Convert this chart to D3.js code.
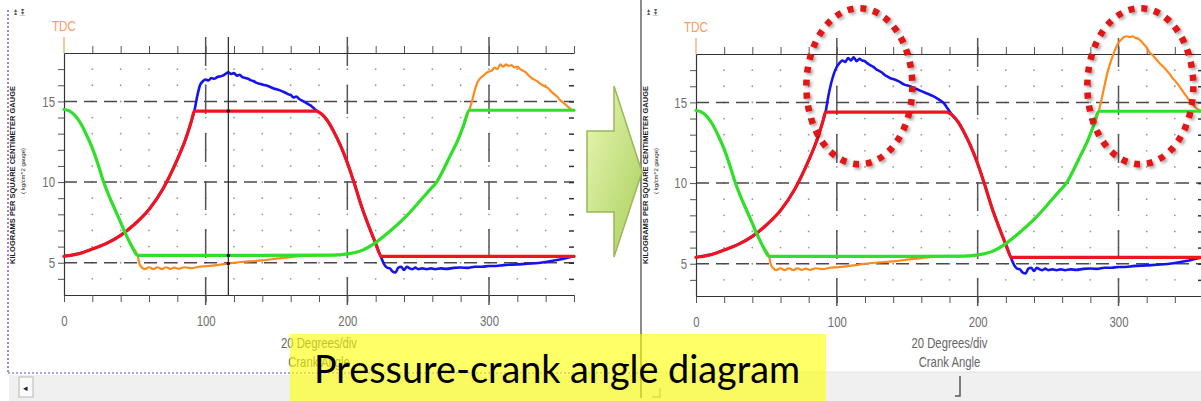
<!DOCTYPE html>
<html>
<head>
<meta charset="utf-8">
<script src="https://cdn.jsdelivr.net/npm/d3@7"></script>
<style>
  html, body { margin: 0; padding: 0; background: #fff; }
  svg { display: block; }
</style>
</head>
<body>
<script>
// ---------------- DATA ----------------
const angleTickLabels = [0, 100, 200, 300];
const pressureTickLabels = [5, 10, 15];
const angleMinorTicks = d3.range(0, 361, 20);
const pressureMinorTicks = d3.range(4, 18, 1);

// ideal (red) curve: [crank angle deg, pressure kg/cm2]
const redCurve = [[0,5.4],[10,5.55],[20,5.85],[30,6.2],[40,6.7],[50,7.4],[60,8.3],[70,9.6],[80,11.4],[86,12.7],[90,13.8],[92,14.4],
  [178,14.4],[182,14.2],[186,13.8],[190,13.2],[195,12.3],[200,11.2],[205,9.9],[210,8.5],[215,7.3],[220,6.2],[224,5.4],[360,5.4]];

// ideal (green) curve
const greenCurve = [[0,14.5],[4,14.4],[8,14.1],[12,13.6],[16,12.9],[20,12.1],[24,11.1],[28,10.0],[32,9.1],[36,8.3],[40,7.5],[44,6.7],[48,6.0],[52,5.45],
  [190,5.47],[200,5.55],[210,5.75],[220,6.25],[230,6.95],[240,7.75],[246,8.3],[252,8.9],[258,9.5],[263,10.0],[268,10.8],[273,11.7],[278,12.6],[282,13.5],[286,14.45],[360,14.45]];

// measured (blue) peak, before / after
const bluePeakBefore = [[94,15.3],[96,16.0],[98,16.25],[100,16.35],[102,16.3],[104,16.45],[106,16.4],[108,16.5],[110,16.55],[112,16.6],[114,16.7],[116,16.8],
  [118,16.7],[120,16.75],[122,16.6],[124,16.65],[126,16.5],[128,16.45],[130,16.4],[132,16.3],[134,16.25],[136,16.15],[138,16.1],[140,16.05],[144,15.95],
  [148,15.8],[152,15.7],[156,15.55],[158,15.45],[160,15.4],[162,15.25],[164,15.3],[166,15.15],[168,15.05],[170,14.95],[172,14.85],[174,14.75],[176,14.6],[178,14.45]];
const bluePeakAfter = [[94,15.4],[96,16.2],[98,16.8],[100,17.2],[102,17.45],[104,17.6],[106,17.5],[108,17.75],[110,17.6],[112,17.8],[114,17.55],[116,17.7],
  [118,17.6],[120,17.55],[122,17.4],[124,17.3],[126,17.2],[128,17.05],[130,16.95],[132,16.85],[134,16.7],[136,16.6],[138,16.5],[140,16.45],[144,16.3],
  [148,16.1],[152,16.0],[156,15.85],[160,15.7],[164,15.55],[168,15.4],[172,15.2],[176,14.95],[178,14.7],[180,14.45]];
// measured (blue) low part
const blueLow = [[224,5.3],[226,4.9],[228,4.7],[230,4.65],[232,4.45],[234,4.4],[236,4.7],[238,4.75],[240,4.55],[242,4.75],[244,4.65],[246,4.6],[248,4.7],
  [250,4.6],[253,4.65],[256,4.6],[259,4.65],[262,4.6],[266,4.65],[270,4.62],[275,4.68],[280,4.7],[285,4.68],[290,4.75],[295,4.75],[300,4.8],[305,4.8],
  [310,4.85],[320,4.9],[330,4.95],[340,5.05],[350,5.2],[360,5.4]];

// measured (orange) low part and peaks, before / after
const orangeLow = [[53,5.0],[55,4.7],[57,4.6],[60,4.72],[63,4.6],[66,4.72],[69,4.6],[72,4.72],[75,4.62],[78,4.7],[81,4.62],[85,4.72],[90,4.66],[95,4.75],
  [100,4.78],[105,4.82],[110,4.88],[116,4.95],[120,5.0],[130,5.08],[140,5.15],[150,5.25],[160,5.35],[170,5.43]];
const orangePeakBefore = [[288,15.0],[290,15.7],[292,16.2],[294,16.45],[296,16.6],[298,16.75],[300,16.85],[302,16.9],[304,17.1],[306,17.0],[308,17.3],
  [310,17.15],[312,17.3],[314,17.2],[316,17.25],[318,17.1],[320,17.15],[322,17.0],[324,16.9],[326,16.8],[328,16.6],[330,16.45],[332,16.35],[334,16.25],
  [336,16.1],[338,16.0],[340,15.9],[342,15.8],[344,15.6],[346,15.45],[348,15.3],[350,15.1],[352,14.95],[354,14.8],[356,14.65],[358,14.5],[360,14.45]];
const orangePeakAfter = [[288,15.2],[290,16.0],[292,16.8],[294,17.4],[296,17.9],[298,18.35],[300,18.7],[302,18.9],[304,19.05],[306,19.1],[308,19.05],
  [310,19.1],[312,19.0],[314,18.95],[316,18.8],[318,18.6],[320,18.4],[322,18.1],[324,17.95],[326,17.75],[328,17.55],[330,17.35],[332,17.2],[334,17.0],
  [336,16.8],[338,16.55],[340,16.35],[342,16.15],[344,15.9],[346,15.65],[348,15.4],[350,15.15],[352,14.95],[354,14.75],[356,14.6],[358,14.5],[360,14.45]];

const cursorAngle = 116;

// ---------------- DRAW ----------------
const W = 1201, H = 401;
const svg = d3.select("body").append("svg").attr("width", W).attr("height", H);
const defs = svg.append("defs");
const grad = defs.append("linearGradient").attr("id", "arrowGrad").attr("x1", "0").attr("y1", "0").attr("x2", "1").attr("y2", "1");
grad.append("stop").attr("offset", "0").attr("stop-color", "#eaf7b6");
grad.append("stop").attr("offset", "1").attr("stop-color", "#a9cf5c");
const sh = defs.append("filter").attr("id", "shadow").attr("x", "-20%").attr("y", "-20%").attr("width", "140%").attr("height", "140%");
sh.append("feDropShadow").attr("dx", 2).attr("dy", 2).attr("stdDeviation", 1.5).attr("flood-color", "#000").attr("flood-opacity", 0.35);

const FONT = '"Liberation Sans Narrow", "Arial Narrow", "Liberation Sans", Arial, sans-serif';

// narrow the text (the original uses a condensed face)
function condense(sel, f) {
  sel.each(function () {
    const l = this.getComputedTextLength();
    if (l > 0) d3.select(this).attr("textLength", l * f).attr("lengthAdjust", "spacingAndGlyphs");
  });
}

function buildBlue(peak) {
  return redCurve.filter(d => d[0] <= 92).concat(peak, redCurve.filter(d => d[0] >= 182 && d[0] <= 220), blueLow);
}
function buildOrange(peak) {
  return greenCurve.filter(d => d[0] <= 52).concat(orangeLow, greenCurve.filter(d => d[0] >= 190 && d[0] <= 286), peak);
}

function panel(cfg) {
  const x = d3.scaleLinear().domain([0, 360]).range(cfg.xr);
  const y = d3.scaleLinear().domain([3, 18]).range(cfg.yr);
  const g = svg.append("g");
  const [x0, x1] = cfg.xr, [yb, yt] = cfg.yr;

  // y-axis titles
  g.append("text").attr("transform", `translate(${cfg.titleX},175) rotate(-90)`).attr("text-anchor", "middle")
    .attr("font-family", "Liberation Sans, Arial, sans-serif").attr("font-size", 7.5).attr("font-weight", "bold").attr("fill", "#222")
    .attr("textLength", 178).attr("lengthAdjust", "spacingAndGlyphs").text("KILOGRAMS PER SQUARE CENTIMETER GAUGE");
  g.append("text").attr("transform", `translate(${cfg.titleX + 10},171) rotate(-90)`).attr("text-anchor", "middle")
    .attr("font-family", "Liberation Sans, Arial, sans-serif").attr("font-size", 6).attr("fill", "#222")
    .attr("textLength", 46).attr("lengthAdjust", "spacingAndGlyphs").text("( kg/cm^2 gauge)");
  // tiny nav icons
  g.append("text").attr("transform", `translate(${cfg.titleX - 1},9) rotate(90)`).attr("font-size", 6).attr("fill", "#555").text("◂◂");
  g.append("text").attr("transform", `translate(${cfg.titleX + 6},9) rotate(90)`).attr("font-size", 6).attr("fill", "#555").text("▸▸|");

  // grid dots
  const dots = [];
  angleMinorTicks.forEach(a => { if (a > 0 && a < 360) pressureMinorTicks.forEach(p => dots.push([a, p])); });
  g.append("g").selectAll("circle").data(dots).join("circle")
    .attr("cx", d => x(d[0])).attr("cy", d => y(d[1])).attr("r", 0.9).attr("fill", "#999");

  // horizontal dashed major lines
  g.append("g").selectAll("line").data(pressureTickLabels).join("line")
    .attr("x1", x0).attr("x2", x1).attr("y1", d => y(d)).attr("y2", d => y(d))
    .attr("stroke", "#4a4a4a").attr("stroke-width", 1.5).attr("stroke-dasharray", "13,7");
  // vertical dashed major lines
  g.append("g").selectAll("line").data(angleTickLabels.filter(d => d > 0)).join("line")
    .attr("x1", d => x(d)).attr("x2", d => x(d)).attr("y1", yt - 16).attr("y2", yb + 10)
    .attr("stroke", "#555").attr("stroke-width", 1.5).attr("stroke-dasharray", "29,19");

  // axes
  const bottom = g.append("g").attr("transform", `translate(0,${yb})`)
    .call(d3.axisBottom(x).tickValues(angleMinorTicks).tickSize(7).tickSizeOuter(0).tickPadding(13)
      .tickFormat(d => angleTickLabels.includes(d) ? d : ""));
  const top = g.append("g").attr("transform", `translate(0,${yt})`)
    .call(d3.axisTop(x).tickValues(angleMinorTicks.filter(d => d > 0)).tickSize(7).tickSizeOuter(0).tickFormat(""));
  const left = g.append("g").attr("transform", `translate(${x0},0)`)
    .call(d3.axisLeft(y).tickValues(pressureMinorTicks).tickSize(6).tickSizeOuter(0).tickPadding(3)
      .tickFormat(d => pressureTickLabels.includes(d) ? d : ""));
  const right = g.append("g").attr("transform", `translate(${x(360)},0)`)
    .call(d3.axisLeft(y).tickValues(pressureMinorTicks).tickSize(5).tickSizeOuter(0).tickFormat(""));
  right.select(".domain").remove();
  right.selectAll("line").attr("stroke", "#333").attr("stroke-width", 1.5);
  [bottom, top, left].forEach(a => {
    a.select(".domain").attr("stroke", "#333").attr("stroke-width", 1.2);
    a.selectAll(".tick line").attr("stroke", "#555");
    a.selectAll("text").attr("fill", "#6e6e6e").attr("font-size", 15).attr("font-family", FONT);
    condense(a.selectAll("text"), 0.76);
  });

  // TDC marker
  g.append("line").attr("x1", x(0)).attr("x2", x(0)).attr("y1", yt - 16).attr("y2", yt).attr("stroke", "#f5a060").attr("stroke-width", 1.2);
  const tdc = g.append("text").attr("x", x(0)).attr("y", yt - 22).attr("text-anchor", "middle").attr("font-family", FONT)
    .attr("font-size", 15).attr("fill", "#f5a060").text("TDC");
  condense(tdc, 0.78);

  // axis titles
  const cx = (x0 + x(360)) / 2;
  const t1 = g.append("text").attr("x", cx).attr("y", 348).attr("text-anchor", "middle").attr("font-family", FONT)
    .attr("font-size", 14.5).attr("fill", "#666").text("20 Degrees/div");
  const t2 = g.append("text").attr("x", cx).attr("y", 367).attr("text-anchor", "middle").attr("font-family", FONT)
    .attr("font-size", 14.5).attr("fill", "#666").text("Crank Angle");
  condense(t1, 0.78);
  condense(t2, 0.78);

  // curves
  const line = d3.line().x(d => x(d[0])).y(d => y(d[1])).curve(d3.curveMonotoneX);
  const curves = g.append("g").attr("fill", "none").attr("stroke-linejoin", "round").attr("stroke-linecap", "round");
  curves.append("path").attr("d", line(buildBlue(cfg.bluePeak))).attr("stroke", "#1414f0").attr("stroke-width", 2.6);
  curves.append("path").attr("d", line(buildOrange(cfg.orangePeak))).attr("stroke", "#ff8a1c").attr("stroke-width", 2.2);
  curves.append("path").attr("d", line(redCurve)).attr("stroke", "#f0141e").attr("stroke-width", 3.2);
  curves.append("path").attr("d", line(greenCurve)).attr("stroke", "#2fe02a").attr("stroke-width", 3.2);

  if (cfg.cursor) {
    g.append("line").attr("x1", x(cursorAngle)).attr("x2", x(cursorAngle)).attr("y1", yt - 16).attr("y2", yb)
      .attr("stroke", "#222").attr("stroke-width", 1.2);
    g.append("g").selectAll("circle").data([14.4, 5.45, 4.95]).join("circle")
      .attr("cx", x(cursorAngle)).attr("cy", d => y(d)).attr("r", 1.8).attr("fill", "#111");
  }
  return { x, y, g };
}

// left frame decorations
svg.append("line").attr("x1", 8).attr("x2", 8).attr("y1", 10).attr("y2", 373)
  .attr("stroke", "#8a8ae6").attr("stroke-width", 2).attr("stroke-dasharray", "2,2");
svg.append("line").attr("x1", 8).attr("x2", 640).attr("y1", 373).attr("y2", 373)
  .attr("stroke", "#8a8ae6").attr("stroke-width", 1.5).attr("stroke-dasharray", "2,2");
// scrollbars
svg.append("rect").attr("x", 9).attr("y", 375).attr("width", 631).attr("height", 26).attr("fill", "#f0f0f0");
svg.append("rect").attr("x", 641).attr("y", 372).attr("width", 560).attr("height", 29).attr("fill", "#f0f0f0");
svg.append("line").attr("x1", 641).attr("x2", 1201).attr("y1", 372).attr("y2", 372).attr("stroke", "#e2e2e2");
svg.append("rect").attr("x", 19).attr("y", 377).attr("width", 14).attr("height", 20).attr("fill", "#fafafa").attr("stroke", "#b8b8b8");
svg.append("text").attr("x", 23).attr("y", 391).attr("font-size", 9).attr("fill", "#222").text("◂");
svg.append("path").attr("d", "M960,376 V396 H955").attr("fill", "none").attr("stroke", "#555").attr("stroke-width", 1.5);
svg.append("path").attr("d", "M660,388 V397 H652").attr("fill", "none").attr("stroke", "#888").attr("stroke-width", 1);

const L = panel({ xr: [64, 574], yr: [295, 53], titleX: 15, bluePeak: bluePeakBefore, orangePeak: orangePeakBefore, cursor: true });

// separator between panels
svg.append("line").attr("x1", 641).attr("x2", 641).attr("y1", 0).attr("y2", 398).attr("stroke", "#8c8c8c").attr("stroke-width", 2);

const R = panel({ xr: [696, 1203], yr: [296, 54], titleX: 648, bluePeak: bluePeakAfter, orangePeak: orangePeakAfter, cursor: false });

// highlight ellipses on the right panel
svg.append("g").attr("filter", "url(#shadow)").selectAll("ellipse").data([116, 315.5]).join("ellipse")
  .attr("cx", d => R.x(d)).attr("cy", R.y(16)).attr("rx", 53).attr("ry", 78)
  .attr("fill", "none").attr("stroke", "#e31212").attr("stroke-width", 6.5).attr("stroke-dasharray", "6,7");

// arrow
svg.append("polygon").attr("points", "587,131 614,131 614,86 642,172 614,257 614,212 587,212")
  .attr("fill", "url(#arrowGrad)").attr("stroke", "#98b957").attr("stroke-width", 1.5);

// caption box
svg.append("rect").attr("x", 290).attr("y", 334).attr("width", 536).attr("height", 67).attr("fill", "rgba(255,255,0,0.6)");
svg.append("text").attr("x", 314).attr("y", 383).attr("font-family", "Lato, 'Open Sans', sans-serif").attr("font-size", 38)
  .attr("fill", "#000").attr("textLength", 486).attr("lengthAdjust", "spacingAndGlyphs").text("Pressure-crank angle diagram");
</script>
</body>
</html>
